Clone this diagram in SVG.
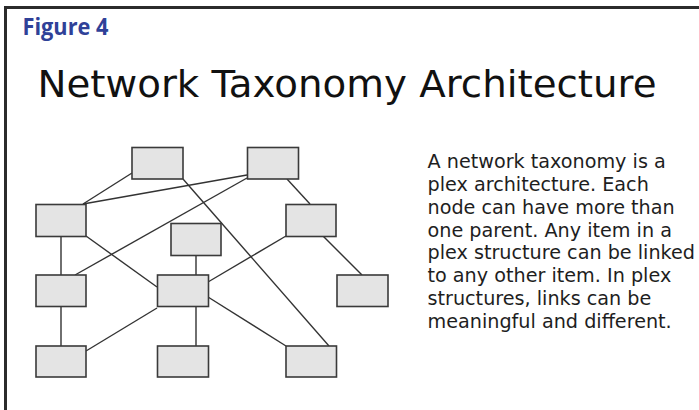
<svg xmlns="http://www.w3.org/2000/svg" width="699" height="410" viewBox="0 0 699 410">
<style>
.node{fill:#e4e4e4;stroke:#3a3a3a;stroke-width:1.6}
.edge{stroke:#333;stroke-width:1.4;fill:none}
.body{font-family:"DejaVu Sans",Verdana,sans-serif;font-size:19.2px;fill:#1e1e1e}
</style>
<rect x="0" y="0" width="699" height="410" fill="#fff"/>
<path d="M5.5,410 V7.5 H699" fill="none" stroke="#2b2b2b" stroke-width="3"/>
<text x="22.5" y="35" font-family="'Open Sans','Noto Sans',sans-serif" font-weight="bold" font-size="24" fill="#2f4198" textLength="86" lengthAdjust="spacingAndGlyphs">Figure 4</text>
<text x="37.5" y="96.5" font-family="'DejaVu Sans',Verdana,sans-serif" font-size="38" fill="#111" textLength="619" lengthAdjust="spacingAndGlyphs">Network Taxonomy Architecture</text>
<g id="connectors">
<line class="edge" x1="132" y1="173" x2="83" y2="204"/>
<line class="edge" x1="247" y1="175" x2="83" y2="204"/>
<line class="edge" x1="247" y1="178" x2="75" y2="275"/>
<line class="edge" x1="183" y1="179" x2="329" y2="346"/>
<line class="edge" x1="287" y1="179" x2="310" y2="204"/>
<line class="edge" x1="61" y1="236" x2="61" y2="275"/>
<line class="edge" x1="86" y1="236" x2="157" y2="287"/>
<line class="edge" x1="196" y1="255" x2="196" y2="275"/>
<line class="edge" x1="286" y1="236" x2="208" y2="282"/>
<line class="edge" x1="323" y1="236" x2="362" y2="275"/>
<line class="edge" x1="61" y1="307" x2="61" y2="346"/>
<line class="edge" x1="157" y1="308" x2="86" y2="351"/>
<line class="edge" x1="196" y1="307" x2="196" y2="346"/>
<line class="edge" x1="208" y1="297" x2="286" y2="346"/>
</g>
<g id="n1"><rect class="node" x="132" y="147.5" width="51" height="31.5"/></g>
<g id="n2"><rect class="node" x="247.5" y="147.5" width="51" height="31.5"/></g>
<g id="n3"><rect class="node" x="36" y="204.5" width="50" height="32"/></g>
<g id="n4"><rect class="node" x="286" y="204.5" width="50" height="32"/></g>
<g id="n5"><rect class="node" x="171" y="223.5" width="50" height="32"/></g>
<g id="n6"><rect class="node" x="36" y="275" width="50" height="31.5"/></g>
<g id="n7"><rect class="node" x="157.5" y="275" width="51" height="31.5"/></g>
<g id="n8"><rect class="node" x="337" y="275" width="51" height="31.5"/></g>
<g id="n9"><rect class="node" x="36" y="346" width="50" height="31"/></g>
<g id="n10"><rect class="node" x="157.5" y="346" width="51" height="31"/></g>
<g id="n11"><rect class="node" x="286" y="346" width="50.5" height="31"/></g>
<text class="body">
<tspan x="427.5" y="167.5">A network taxonomy is a</tspan>
<tspan x="427.5" y="190.5">plex architecture. Each</tspan>
<tspan x="427.5" y="213.5">node can have more than</tspan>
<tspan x="427.5" y="236.5">one parent. Any item in a</tspan>
<tspan x="427.5" y="259">plex structure can be linked</tspan>
<tspan x="427.5" y="282">to any other item. In plex</tspan>
<tspan x="427.5" y="305">structures, links can be</tspan>
<tspan x="427.5" y="327.5">meaningful and different.</tspan>
</text>
</svg>
